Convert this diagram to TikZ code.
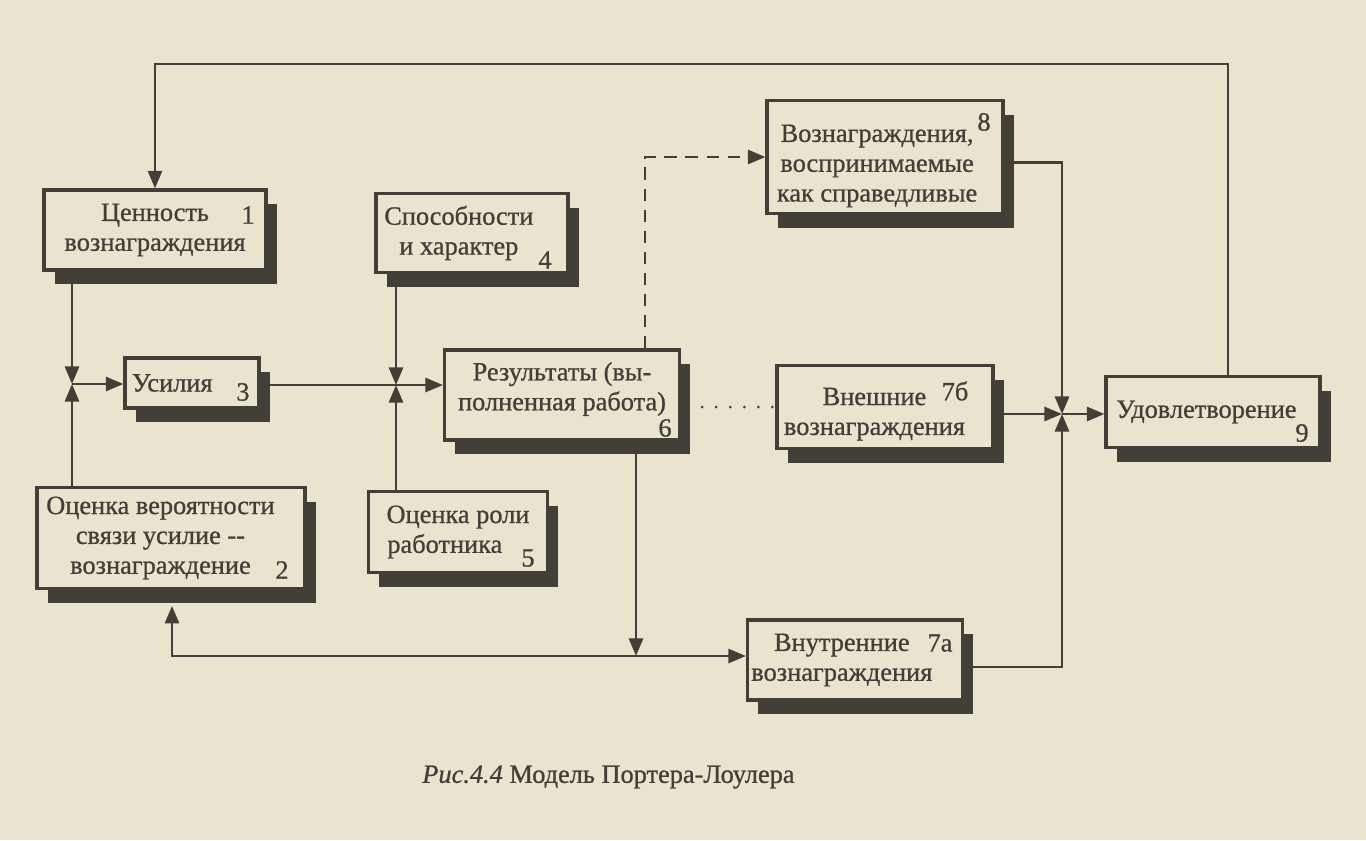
\documentclass[tikz,border=0pt]{standalone}
\usepackage{fontspec}
\setmainfont{Liberation Serif}[FakeBold=0.8]
\usepackage{xcolor}
\usetikzlibrary{arrows.meta,shadows}

\definecolor{paper}{RGB}{234,228,207}
\definecolor{ink}{RGB}{66,62,56}

\begin{document}
\begin{tikzpicture}[x=0.02cm, y=-0.02cm,
    blk/.style={draw=ink, line width=1.8pt, fill=paper, inner sep=0pt, align=center,
        text=ink, font=\fontsize{15}{17}\selectfont,
        drop shadow={shadow xshift=6pt, shadow yshift=-8pt, fill=ink, opacity=1}},
    num/.style={text=ink, font=\fontsize{15}{17}\selectfont, inner sep=0pt},
    wire/.style={draw=ink, line width=1.5pt},
    tip/.tip={Triangle[length=10pt,width=8pt]},
    arr/.style={wire, -tip}]
    \fill[paper] (0,0) rectangle (1366,840);
    \useasboundingbox (0,0) rectangle (1366,840);

    \node[blk, minimum width=4.44cm, minimum height=1.6cm] (b1) at (155,230) {Ценность\\вознаграждения};
    \node[blk, minimum width=5.36cm, minimum height=2.02cm] (b2) at (171,538) {\mbox{Оценка вероятности\hspace{0.8em}}\\\mbox{связи усилие -{}-\hspace{0.8em}}\\\mbox{вознаграждение\hspace{0.8em}}};
    \node[blk, minimum width=2.68cm, minimum height=1cm] (b3) at (192,383) {Усилия\hspace*{1.5em}};
    \node[blk, minimum width=3.84cm, minimum height=1.58cm] (b4) at (472,233) {Способности\hspace*{1em}\\и характер\hspace*{1em}};
    \node[blk, minimum width=3.58cm, minimum height=1.62cm] (b5) at (458,532) {Оценка роли\\работника\hspace*{1em}};
    \node[blk, minimum width=4.7cm, minimum height=1.8cm] (b6) at (562,395) {Результаты (вы-\\полненная работа)\\[-7pt]};
    \node[blk, minimum width=4.3cm, minimum height=1.6cm] (b7a) at (855,660) {Внутренние\hspace*{1em}\\вознаграждения\hspace*{1em}};
    \node[blk, minimum width=4.32cm, minimum height=1.66cm] (b7b) at (885,407) {\raisebox{-4pt}[\height][\depth]{\begin{tabular}{@{}c@{}}Внешние\\вознаграждения\end{tabular}}\hspace*{0.8em}};
    \node[blk, minimum width=4.72cm, minimum height=2.26cm] (b8) at (885,157) {\raisebox{-5pt}[\height][\depth]{\begin{tabular}{@{}c@{}}Вознаграждения,\\воспринимаемые\\как справедливые\end{tabular}}\hspace*{0.6em}};
    \node[blk, minimum width=4.28cm, minimum height=1.42cm] (b9) at (1213,412) {Удовлетворение\hspace*{0.5em}};

    \node[num] (n1) at (248,215) {1};
    \node[num] (n2) at (282,570) {2};
    \node[num] (n3) at (243,392) {3};
    \node[num] (n4) at (545,260) {4};
    \node[num] (n5) at (528,558) {5};
    \node[num] (n6) at (665,428) {6};
    \node[num] (n7a) at (940,643) {7а};
    \node[num] (n7b) at (955,391) {7б};
    \node[num] (n8) at (984,122) {8};
    \node[num] (n9) at (1302,433) {9};

    \node[num, anchor=west] (cap) at (422,777) {\textit{Рис.4.4} Модель Портера-Лоулера};

    \coordinate (j1) at (72,384);
    \coordinate (j2) at (396,385);
    \coordinate (j3) at (1062,414);
    \coordinate (k6) at (636,656);
    \coordinate (low2) at (172,656);
    \coordinate (d6) at (645,157);
    \coordinate (top1) at (155,64);
    \coordinate (top9) at (1228,64);

    \draw[arr] (b1.south -| j1) -- (j1);
    \draw[arr] (b2.north -| j1) -- (j1);
    \draw[arr] (j1) -- (b3.west |- j1);
    \draw[wire] (b3.east |- j2) -- (j2);
    \draw[arr] (j2) -- (b6.west |- j2);
    \draw[arr] (b4.south -| j2) -- (j2);
    \draw[arr] (b5.north -| j2) -- (j2);

    \draw[arr, dash pattern=on 7pt off 5pt] (b6.north -| d6) -- (d6) -- (b8.west |- d6);
    \draw[wire, line width=1.7pt, line cap=round, dash pattern=on 0pt off 8pt, shorten <=12pt] (b6.east |- b7b) -- (b7b.west);

    \draw[arr] ([yshift=-3pt]b8.east) -| (j3);
    \draw[arr] (b7b.east |- j3) -- (j3);
    \draw[arr] ([yshift=-4pt]b7a.east) -| (j3);
    \draw[arr] (j3) -- (b9.west |- j3);

    \draw[arr] (b9.north -| top9) |- (top1) -- (b1.north -| top1);
    \draw[arr] (b6.south -| k6) -- (k6);
    \draw[wire, tip-tip, shorten <=9pt] (b2.south -| low2) -- (low2) -- (b7a.west |- low2);
\end{tikzpicture}
\end{document}
